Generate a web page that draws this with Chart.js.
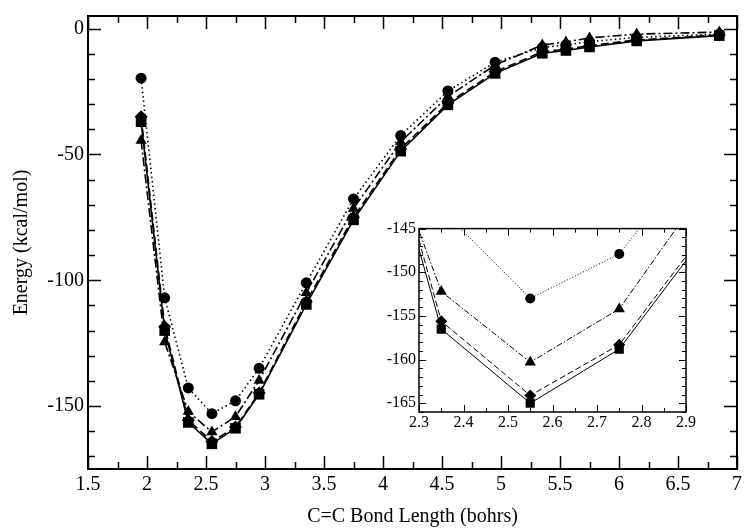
<!DOCTYPE html>
<html>
<head>
<meta charset="utf-8">
<script src="https://cdn.jsdelivr.net/npm/chart.js@4"></script>
<style>
  body { margin: 0; background: #fff; }
  #wrap { position: relative; width: 746px; height: 530px; }
  #mainChart { position: absolute; left: 0; top: 0; }
  #insetChart { position: absolute; left: 360px; top: 216px; }
</style>
</head>
<body>
<div id="wrap">
  <canvas id="mainChart" width="746" height="530"></canvas>
  <canvas id="insetChart" width="340" height="220"></canvas>
</div>
<script>
// bond lengths (bohrs) and energies (kcal/mol) for the four curves
const bondLength = [1.95, 2.15, 2.35, 2.55, 2.75, 2.95, 3.35, 3.75, 4.15, 4.55, 4.95, 5.35, 5.55, 5.75, 6.15, 6.85];
const circleE   = [-19.7, -107, -142.8, -153, -147.9, -135, -101, -67.7, -42.5, -24.8, -13.4, -7.5, -6.5, -5.2, -3.5, -2.2];
const triangleE = [-44.5, -124.5, -152.2, -160.3, -154.2, -139.8, -105, -71.5, -45, -27, -14.5, -6.5, -5.3, -3.7, -2.2, -1.4];
const diamondE  = [-35, -118.5, -155.6, -164.1, -158.3, -144.8, -108.5, -75, -47.8, -29.6, -17.2, -9.2, -8.2, -6.8, -4.5, -2.5];
const squareE   = [-37, -120, -156.5, -165, -158.8, -145.3, -109.6, -76, -48.7, -30.3, -17.8, -9.8, -8.7, -7.3, -4.9, -2.8];

const mainXTicks = [1.5, 2, 2.5, 3, 3.5, 4, 4.5, 5, 5.5, 6, 6.5, 7];
const mainYTicks = [-150, -100, -50, 0];
const insetXTicks = [2.3, 2.4, 2.5, 2.6, 2.7, 2.8, 2.9];
const insetYTicks = [-165, -160, -155, -150, -145];

const serif = '"Liberation Serif", "Times New Roman", serif';

const pts = (ys) => bondLength.map((x, i) => ({ x: x, y: ys[i] }));

// frame around the plot area with inward major/minor ticks on all four sides
const frameTicks = {
  id: "frameTicks",
  afterDatasetsDraw(chart, args, o) {
    const { ctx, chartArea: a, scales: { x, y } } = chart;
    ctx.save();
    ctx.strokeStyle = "#000";
    ctx.lineWidth = o.tickWidth;
    ctx.beginPath();
    let k0 = Math.ceil(x.min / o.xMinor - 1e-6), k1 = Math.floor(x.max / o.xMinor + 1e-6);
    for (let k = k0; k <= k1; k++) {
      const v = k * o.xMinor;
      const major = Math.abs(v / o.xMajor - Math.round(v / o.xMajor)) < 1e-6;
      const len = major ? o.majorLen : o.minorLen;
      const px = Math.round(x.getPixelForValue(v)) + 0.5;
      ctx.moveTo(px, a.bottom); ctx.lineTo(px, a.bottom - len);
      ctx.moveTo(px, a.top); ctx.lineTo(px, a.top + len);
    }
    k0 = Math.ceil(y.min / o.yMinor - 1e-6); k1 = Math.floor(y.max / o.yMinor + 1e-6);
    for (let k = k0; k <= k1; k++) {
      const v = k * o.yMinor;
      const major = Math.abs(v / o.yMajor - Math.round(v / o.yMajor)) < 1e-6;
      const len = major ? o.majorLen : o.minorLen;
      const py = Math.round(y.getPixelForValue(v)) + 0.5;
      ctx.moveTo(a.left, py); ctx.lineTo(a.left + len, py);
      ctx.moveTo(a.right, py); ctx.lineTo(a.right - len, py);
    }
    ctx.stroke();
    ctx.lineWidth = o.frameWidth;
    ctx.strokeRect(a.left, a.top, a.right - a.left, a.bottom - a.top);
    ctx.restore();
  },
};

function makeDatasets(lw, r) {
  return [
    { data: pts(circleE), pointStyle: "circle", pointRadius: r.circle, borderDash: r.dot },
    { data: pts(triangleE), pointStyle: "triangle", pointRadius: r.tri, borderDash: r.dashDot },
    { data: pts(diamondE), pointStyle: "rectRot", pointRadius: r.dia, borderDash: r.dash },
    { data: pts(squareE), pointStyle: "rect", pointRadius: r.sq, borderDash: [] },
  ].map((d) => Object.assign(d, {
    borderColor: "#000",
    backgroundColor: "#000",
    pointBorderWidth: 0,
    borderWidth: lw,
    tension: 0,
    pointHoverRadius: d.pointRadius,
  }));
}

const tickLabel = (v) => String(+Number(v).toFixed(2));

// Main chart
new Chart(document.getElementById("mainChart").getContext("2d"), {
  type: "line",
  data: {
    datasets: makeDatasets(1.6, { circle: 5.5, tri: 6.5, dia: 6.5, sq: 7.5, dot: [1.5, 3], dashDot: [9, 3, 2, 3], dash: [8, 4] }),
  },
  options: {
    responsive: false,
    animation: false,
    devicePixelRatio: 1,
    layout: { padding: { left: 0, right: 6, top: 12, bottom: 0 } },
    plugins: {
      legend: { display: false },
      tooltip: { enabled: false },
      frameTicks: { tickWidth: 1.5, frameWidth: 2, majorLen: 13, minorLen: 7, xMajor: 0.5, xMinor: 0.25, yMajor: 50, yMinor: 10 },
    },
    scales: {
      x: {
        type: "linear",
        min: 1.5,
        max: 7,
        afterBuildTicks: (s) => { s.ticks = mainXTicks.map((v) => ({ value: v })); },
        afterFit: (s) => { s.height = 61; },
        grid: { display: false, drawTicks: false },
        border: { display: false },
        ticks: { color: "#000", font: { family: serif, size: 20 }, padding: 4, maxRotation: 0, autoSkip: false, callback: tickLabel },
        title: { display: true, text: "C=C Bond Length (bohrs)", color: "#000", font: { family: serif, size: 20 }, padding: { top: 0, bottom: 1 } },
      },
      y: {
        type: "linear",
        min: -175,
        max: 5,
        afterBuildTicks: (s) => { s.ticks = mainYTicks.map((v) => ({ value: v })); },
        afterFit: (s) => { s.width = 88; },
        grid: { display: false, drawTicks: false },
        border: { display: false },
        ticks: { color: "#000", font: { family: serif, size: 20 }, padding: 4, autoSkip: false, callback: tickLabel },
        title: { display: true, text: "Energy (kcal/mol)", color: "#000", font: { family: serif, size: 20 }, padding: { top: 10, bottom: 0 } },
      },
    },
  },
  plugins: [frameTicks],
});

// Inset: zoom on the minimum
new Chart(document.getElementById("insetChart").getContext("2d"), {
  type: "line",
  data: {
    datasets: makeDatasets(1, { circle: 5, tri: 6.5, dia: 6, sq: 6.5, dot: [1, 2], dashDot: [6, 2, 1.5, 2], dash: [6, 3] }),
  },
  options: {
    responsive: false,
    animation: false,
    devicePixelRatio: 1,
    layout: { padding: { left: 0, right: 14, top: 10, bottom: 0 } },
    plugins: {
      legend: { display: false },
      tooltip: { enabled: false },
      frameTicks: { tickWidth: 1, frameWidth: 1.5, majorLen: 7, minorLen: 4, xMajor: 0.1, xMinor: 0.05, yMajor: 5, yMinor: 1 },
    },
    scales: {
      x: {
        type: "linear",
        min: 2.3,
        max: 2.9,
        afterBuildTicks: (s) => { s.ticks = insetXTicks.map((v) => ({ value: v })); },
        afterFit: (s) => { s.height = 24; },
        grid: { display: false, drawTicks: false },
        border: { display: false },
        ticks: { color: "#000", font: { family: serif, size: 16 }, padding: 1, maxRotation: 0, autoSkip: false, callback: tickLabel },
      },
      y: {
        type: "linear",
        min: -166,
        max: -145,
        afterBuildTicks: (s) => { s.ticks = insetYTicks.map((v) => ({ value: v })); },
        afterFit: (s) => { s.width = 59; },
        grid: { display: false, drawTicks: false },
        border: { display: false },
        ticks: { color: "#000", font: { family: serif, size: 16 }, padding: 3, autoSkip: false, callback: tickLabel },
      },
    },
  },
  plugins: [frameTicks],
});
</script>
</body>
</html>
